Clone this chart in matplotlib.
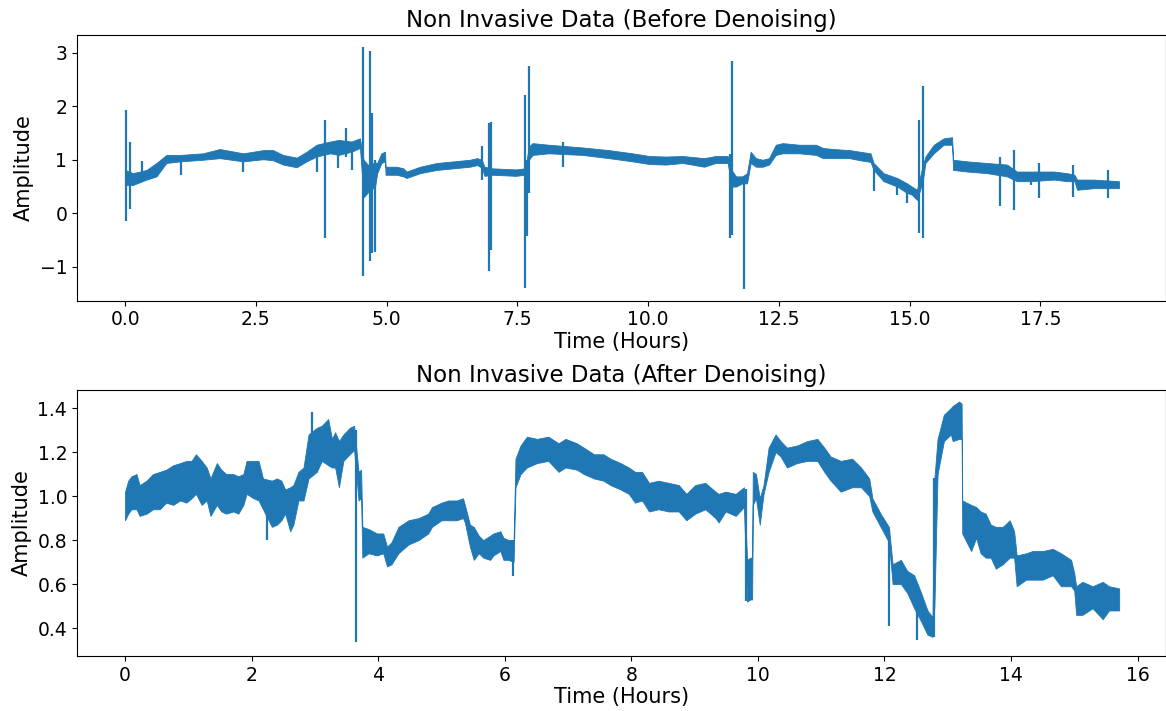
import matplotlib
matplotlib.use("Agg")
import matplotlib.pyplot as plt

# ---------------- Top panel: before denoising ----------------
# envelope of the noisy band (time in hours, lower / upper amplitude)
before_t = [0.00, 0.15, 0.41, 0.60, 0.79, 1.05, 1.49, 1.81, 2.26, 2.64, 2.83, 3.02, 3.28, 3.47,
            3.66, 3.92, 4.08, 4.33, 4.49, 4.56, 4.65, 4.78, 4.82, 4.90, 4.97, 4.98, 5.19, 5.32, 5.38, 5.64,
            5.96, 6.28, 6.59, 6.73, 6.82, 6.87, 7.02, 7.47, 7.65, 7.72, 7.79, 8.10, 8.74, 9.25,
            9.70, 10.02, 10.34, 10.66, 11.07, 11.29, 11.52, 11.60, 11.68, 11.80, 11.89, 11.96,
            12.06, 12.19, 12.31, 12.44, 12.57, 12.89, 13.21, 13.34, 13.54, 13.85, 14.05, 14.25,
            14.31, 14.50, 14.76, 14.95, 15.04, 15.14, 15.25, 15.30, 15.46, 15.65, 15.81, 15.83,
            16.10, 16.48, 16.86, 17.05, 17.31, 17.76, 18.01, 18.15, 18.20, 18.52, 19.00]
before_lo = [0.53, 0.53, 0.63, 0.69, 0.94, 0.97, 1.00, 1.03, 0.97, 1.01, 0.99, 0.91, 0.86, 0.97,
             1.06, 1.12, 1.09, 1.15, 1.22, 0.30, 0.40, 0.50, 0.75, 0.94, 0.97, 0.72, 0.72, 0.69, 0.66, 0.75,
             0.81, 0.84, 0.87, 0.90, 0.85, 0.70, 0.72, 0.70, 0.72, 1.00, 1.09, 1.12, 1.09, 1.03,
             0.97, 0.92, 0.91, 0.94, 0.87, 0.94, 0.94, 0.50, 0.50, 0.56, 0.56, 0.94,
             0.87, 0.87, 0.91, 1.09, 1.12, 1.12, 1.09, 1.03, 1.03, 1.03, 0.99, 0.96,
             0.81, 0.60, 0.50, 0.38, 0.35, 0.25, 0.60, 0.94, 1.12, 1.28, 1.28, 0.81,
             0.78, 0.75, 0.69, 0.60, 0.60, 0.63, 0.60, 0.60, 0.44, 0.47, 0.47]
before_hi = [0.81, 0.75, 0.81, 0.94, 1.09, 1.09, 1.12, 1.20, 1.12, 1.18, 1.18, 1.09, 1.04, 1.15,
             1.28, 1.34, 1.37, 1.34, 1.40, 1.00, 0.90, 0.95, 0.94, 1.12, 1.15, 0.87, 0.87, 0.84, 0.78, 0.87,
             0.94, 0.97, 1.00, 1.03, 1.00, 0.87, 0.84, 0.82, 0.84, 1.25, 1.31, 1.28, 1.23, 1.18,
             1.12, 1.07, 1.06, 1.07, 1.03, 1.07, 1.07, 0.80, 0.69, 0.69, 0.75, 1.15,
             1.03, 1.00, 1.03, 1.28, 1.31, 1.28, 1.28, 1.22, 1.20, 1.18, 1.15, 1.12,
             0.94, 0.75, 0.66, 0.56, 0.50, 0.44, 0.90, 1.06, 1.28, 1.40, 1.42, 1.00,
             0.97, 0.94, 0.91, 0.78, 0.78, 0.78, 0.75, 0.72, 0.63, 0.63, 0.60]
# artefact spikes (time, min, max)
before_spike_t = [0.02, 0.09, 0.33, 1.07, 2.26, 3.66, 3.82, 4.08, 4.22, 4.33, 4.55, 4.68, 4.73, 4.78,
                  6.82, 6.95, 6.99, 7.65, 7.68, 7.72, 8.37, 11.56, 11.61, 11.84, 14.31, 14.76,
                  14.95, 15.17, 15.25, 16.73, 16.99, 17.31, 17.47, 18.12, 18.79]
before_spike_lo = [-0.15, 0.09, 0.70, 0.72, 0.78, 0.78, -0.46, 0.84, 1.06, 0.81, -1.17, -0.89, -0.74, -0.72,
                   0.63, -1.08, -0.68, -1.39, -0.43, 0.38, 0.87, -0.46, -0.40, -1.41, 0.41, 0.35,
                   0.19, -0.37, -0.46, 0.13, 0.07, 0.53, 0.29, 0.31, 0.29]
before_spike_hi = [1.93, 1.34, 0.98, 1.00, 1.00, 1.10, 1.74, 1.20, 1.59, 1.20, 3.10, 3.03, 1.87, 1.00,
                   1.26, 1.68, 1.70, 2.20, 1.00, 2.75, 1.34, 1.10, 2.85, 0.70, 0.90, 0.60,
                   0.50, 1.74, 2.37, 1.06, 1.18, 0.70, 0.94, 0.90, 0.81]

# ---------------- Bottom panel: after denoising ----------------
after_t = [0.00, 0.05, 0.10, 0.18, 0.23, 0.34, 0.44, 0.55, 0.65, 0.76, 0.87, 0.97, 1.05, 1.12, 1.21,
           1.29, 1.35, 1.45, 1.52, 1.60, 1.71, 1.79, 1.87, 1.92, 2.03, 2.11, 2.18, 2.32, 2.40, 2.47,
           2.53, 2.61, 2.66, 2.74, 2.82, 2.90, 3.03, 3.11, 3.21, 3.27, 3.32, 3.38, 3.45, 3.55, 3.62,
           3.69, 3.73, 3.75, 3.85, 3.98, 4.08, 4.14, 4.21, 4.32, 4.48, 4.64, 4.79, 4.85, 5.00, 5.11,
           5.24, 5.34, 5.37, 5.45, 5.51, 5.59, 5.66, 5.77, 5.82, 5.93, 5.98, 6.06, 6.14, 6.17, 6.25,
           6.35, 6.51, 6.69, 6.85, 6.96, 7.14, 7.25, 7.41, 7.56, 7.67, 7.83, 7.96, 8.06, 8.17, 8.28,
           8.43, 8.59, 8.75, 8.87, 9.01, 9.17, 9.33, 9.38, 9.49, 9.65, 9.78, 9.83, 9.88, 9.91, 9.92,
           9.97, 10.03, 10.09, 10.17, 10.28, 10.36, 10.46, 10.62, 10.78, 10.94, 11.05, 11.15, 11.31,
           11.49, 11.63, 11.76, 11.81, 11.94, 12.07, 12.13, 12.26, 12.36, 12.47, 12.58, 12.68, 12.76,
           12.79, 12.84, 12.94, 13.05, 13.08, 13.18, 13.22, 13.23, 13.37, 13.45, 13.52, 13.60, 13.68,
           13.76, 13.87, 13.98, 14.05, 14.09, 14.24, 14.34, 14.50, 14.66, 14.79, 14.95, 15.00, 15.03,
           15.13, 15.29, 15.45, 15.55, 15.71]
after_lo = [0.89, 0.92, 0.94, 0.94, 0.91, 0.92, 0.94, 0.94, 0.97, 0.96, 0.98, 0.97, 0.99, 1.01, 0.96,
            0.98, 0.91, 0.96, 0.93, 0.92, 0.93, 0.92, 0.96, 1.01, 0.99, 0.98, 0.94, 0.86, 0.87, 0.89,
            0.92, 0.84, 0.87, 0.98, 0.98, 1.08, 1.11, 1.16, 1.14, 1.13, 1.13, 1.04, 1.16, 1.19, 1.21,
            0.98, 0.99, 0.72, 0.74, 0.73, 0.74, 0.68, 0.69, 0.74, 0.78, 0.80, 0.83, 0.86, 0.89, 0.89,
            0.89, 0.90, 0.88, 0.77, 0.71, 0.74, 0.72, 0.71, 0.73, 0.75, 0.71, 0.71, 0.70, 1.04, 1.10,
            1.13, 1.15, 1.16, 1.11, 1.13, 1.12, 1.10, 1.08, 1.07, 1.05, 1.03, 1.01, 0.97, 0.98, 0.93,
            0.94, 0.93, 0.93, 0.89, 0.92, 0.94, 0.90, 0.88, 0.93, 0.91, 0.95, 0.52, 0.53, 0.53, 0.96,
            0.99, 0.87, 1.01, 1.11, 1.20, 1.18, 1.13, 1.15, 1.16, 1.16, 1.11, 1.07, 1.02,
            1.04, 1.04, 1.00, 0.93, 0.86, 0.79, 0.60, 0.60, 0.56, 0.49, 0.43, 0.37, 0.36,
            0.50, 1.10, 1.25, 1.28, 1.25, 1.26, 1.26, 0.83, 0.75, 0.81, 0.74, 0.72, 0.72,
            0.67, 0.69, 0.72, 0.72, 0.59, 0.62, 0.62, 0.62, 0.64, 0.59, 0.59, 0.57, 0.46,
            0.46, 0.49, 0.44, 0.48, 0.48]
after_hi = [1.02, 1.07, 1.09, 1.10, 1.05, 1.07, 1.10, 1.11, 1.12, 1.14, 1.15, 1.16, 1.16, 1.19, 1.16,
            1.13, 1.08, 1.15, 1.12, 1.10, 1.10, 1.09, 1.10, 1.16, 1.16, 1.16, 1.08, 1.07, 1.08, 1.07,
            1.03, 1.04, 1.05, 1.11, 1.13, 1.28, 1.31, 1.32, 1.35, 1.26, 1.29, 1.25, 1.28, 1.31, 1.32,
            1.11, 1.12, 0.86, 0.85, 0.83, 0.83, 0.77, 0.79, 0.86, 0.89, 0.90, 0.92, 0.95, 0.97, 0.98,
            0.98, 0.99, 0.96, 0.87, 0.86, 0.82, 0.80, 0.82, 0.83, 0.84, 0.81, 0.80, 0.80, 1.17, 1.23,
            1.27, 1.26, 1.27, 1.24, 1.26, 1.24, 1.22, 1.19, 1.19, 1.17, 1.15, 1.13, 1.11, 1.11, 1.06,
            1.07, 1.06, 1.05, 1.01, 1.05, 1.06, 1.02, 1.01, 1.02, 1.01, 1.04, 0.71, 0.72, 0.72, 1.11,
            1.10, 0.99, 1.05, 1.22, 1.28, 1.25, 1.22, 1.23, 1.25, 1.26, 1.22, 1.18, 1.16,
            1.17, 1.13, 1.08, 0.99, 0.92, 0.86, 0.69, 0.71, 0.66, 0.64, 0.56, 0.48, 0.45,
            1.08, 1.26, 1.37, 1.40, 1.41, 1.43, 1.42, 0.98, 0.96, 0.95, 0.93, 0.92, 0.87,
            0.86, 0.86, 0.89, 0.84, 0.73, 0.74, 0.75, 0.75, 0.76, 0.74, 0.71, 0.65, 0.59,
            0.61, 0.59, 0.61, 0.59, 0.58]
after_spike_t = [2.25, 2.96, 3.65, 6.13, 9.81, 12.08, 12.51, 12.785]
after_spike_lo = [0.80, 1.10, 0.336, 0.637, 0.524, 0.41, 0.344, 0.36]
after_spike_hi = [1.00, 1.382, 1.30, 0.80, 1.03, 0.85, 0.60, 1.08]

BLUE = "#1f77b4"

fig = plt.figure(figsize=(11.66, 7.11), dpi=100)
ax1 = fig.add_axes([0.066, 0.577, 0.934, 0.374])
ax2 = fig.add_axes([0.066, 0.0774, 0.934, 0.374])

def draw(ax, t, lo, hi, st, slo, shi):
    ax.fill_between(t, lo, hi, color=BLUE, edgecolor=BLUE, linewidth=0.6)
    ax.vlines(st, slo, shi, color=BLUE, linewidth=1.6)

draw(ax1, before_t, before_lo, before_hi, before_spike_t, before_spike_lo, before_spike_hi)
draw(ax2, after_t, after_lo, after_hi, after_spike_t, after_spike_lo, after_spike_hi)

ax1.set_xlim(-0.92, 19.9)
ax1.set_ylim(-1.63, 3.33)
ax2.set_xlim(-0.76, 16.45)
ax2.set_ylim(0.273, 1.482)
ax1.set_yticks([-1, 0, 1, 2, 3])
ax1.set_xticks([0, 2.5, 5, 7.5, 10, 12.5, 15, 17.5])
ax2.set_xticks([0, 2, 4, 6, 8, 10, 12, 14, 16])
ax2.set_yticks([0.4, 0.6, 0.8, 1.0, 1.2, 1.4])

ax1.set_title("Non Invasive Data (Before Denoising)", fontsize=16.5)
ax2.set_title("Non Invasive Data (After Denoising)", fontsize=16.5)
for ax in (ax1, ax2):
    ax.set_xlabel("Time (Hours)", fontsize=15, labelpad=2)
    ax.set_ylabel("Amplitude", fontsize=15)
    ax.tick_params(labelsize=13.5)

fig.savefig("out.png", dpi=100)
